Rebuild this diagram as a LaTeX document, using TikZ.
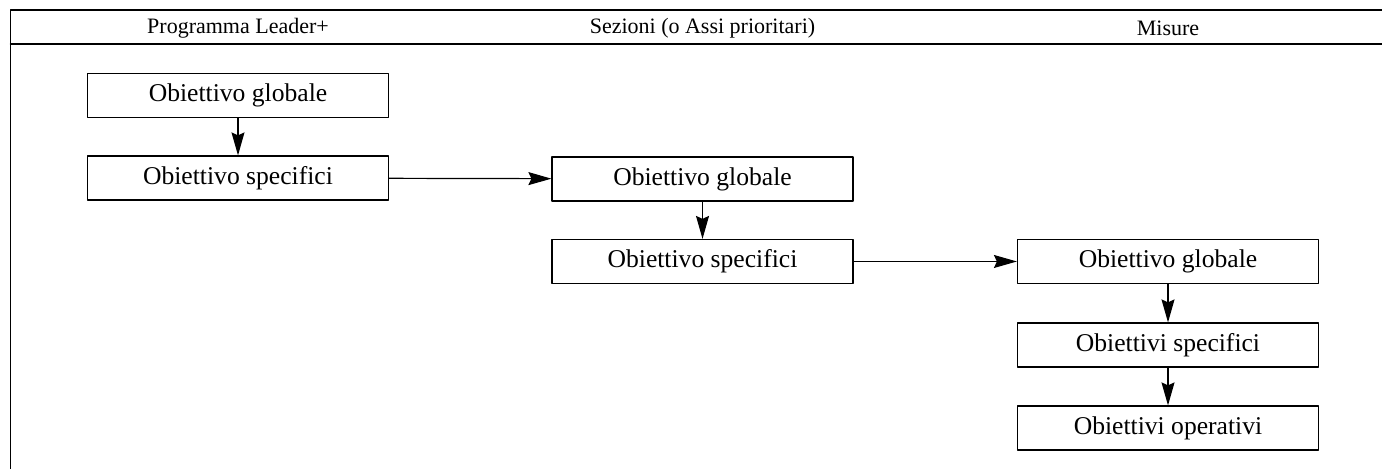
\documentclass[tikz,border=0pt]{standalone}
\usepackage{fontspec}
\setmainfont{Liberation Serif}
\usetikzlibrary{arrows.meta}
\tikzset{
  obj/.style={draw,line width=0.6pt,minimum width=150.5pt,minimum height=22pt,
    inner sep=0pt,font=\fontsize{12.8}{14}\selectfont},
  head/.style={inner sep=0pt,font=\fontsize{11}{12}\selectfont},
}
\begin{document}
\begin{tikzpicture}[x=0.5pt,y=-0.5pt,line cap=round,line join=round,
  >={Stealth[length=11.5pt,width=6.5pt,inset=1.5pt]}]
  \useasboundingbox (0,0) rectangle (1382,469);
  % frame and header row
  \draw[line width=0.9pt] (10.5,469) -- (10.5,10) -- (1382,10);
  \draw[line width=0.7pt] (10.5,44) -- (1382,44);
  \node[head] (hprog) at (238,28) {Programma Leader+};
  \node[head] (hsez) at (702.5,28) {Sezioni (o Assi prioritari)};
  \node[head] (hmis) at (1168,28) {Misure};
  % Programma
  \node[obj] (gprog) at (238,95.5) {Obiettivo globale};
  \node[obj] (sprog) at (238,178) {Obiettivo specifici};
  % Sezioni
  \node[obj] (gsez) at (702.5,179) {Obiettivo globale};
  \node[obj] (ssez) at (702.5,261.5) {Obiettivo specifici};
  % Misure
  \node[obj] (gmis) at (1168,261.5) {Obiettivo globale};
  \node[obj] (smis) at (1168,345) {Obiettivi specifici};
  \node[obj] (omis) at (1168,428) {Obiettivi operativi};
  \draw[line width=0.6pt,->] (gprog) -- (sprog);
  \draw[line width=0.6pt,->] (sprog) -- (gsez);
  \draw[line width=0.6pt,->] (gsez) -- (ssez);
  \draw[line width=0.6pt,->] (ssez) -- (gmis);
  \draw[line width=0.6pt,->] (gmis) -- (smis);
  \draw[line width=0.6pt,->] (smis) -- (omis);
\end{tikzpicture}
\end{document}
